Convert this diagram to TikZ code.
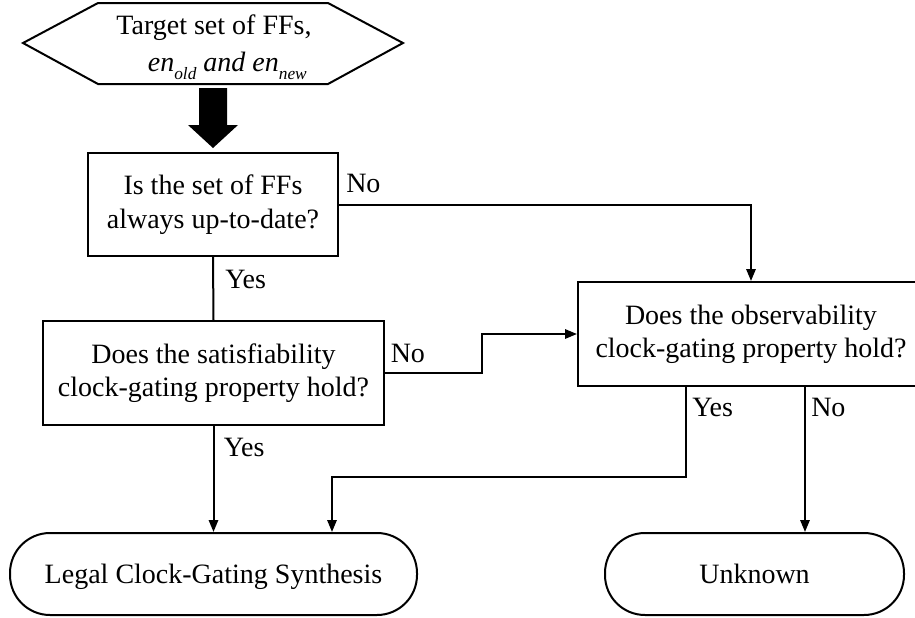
\documentclass[tikz,border=0pt]{standalone}
\usepackage{fontspec}
\setmainfont{Liberation Serif}
\usetikzlibrary{arrows.meta,calc}

\tikzset{
  txt/.style={font=\fontsize{21}{25}\selectfont, inner sep=0pt},
  stepbox/.style={txt, draw, line width=1.5pt, align=center, rectangle},
  term/.style={txt, draw, line width=1.5pt, align=center, rectangle,
    rounded corners=30pt, text height=14pt, text depth=0pt},
  link/.style={line width=1.5pt},
  arr/.style={link, -{Triangle[length=9pt,width=7pt]}},
  lbl/.style={txt, anchor=base west},
}
\newcommand{\lowsub}[1]{\raisebox{-0.28em}{\fontsize{13}{13}\selectfont #1}}

\begin{document}
\begin{tikzpicture}[x=0.75pt, y=-0.75pt]
  \useasboundingbox (0,0) rectangle (915,618);
  \clip (0,0) rectangle (915,618);

  % input: target set of flip-flops and enable signals
  \draw[line width=1.5pt, fill=white]
    (23,43) -- (98,3) -- (328,3) -- (403,43) -- (328,84) -- (98,84) -- cycle;
  \node[txt, align=center] (src) at (214,47)
    {Target set of FFs,\\[3pt]
     \hspace*{20pt}\itshape en\lowsub{old} and en\lowsub{new}};

  % wide block arrow into the first check
  \fill (199,88) -- (227,88) -- (227,125) -- (238,125) -- (213,148)
        -- (188,125) -- (199,125) -- cycle;

  % decision boxes
  \node[stepbox, minimum width=187.5pt, minimum height=77.25pt] (q1) at (213,204.5)
    {Is the set of FFs\\always up-to-date?};
  \node[stepbox, minimum width=255.75pt, minimum height=78pt] (q2) at (213.5,373)
    {Does the satisfiability\\clock-gating property hold?};
  \node[stepbox, minimum width=259.5pt, minimum height=78pt] (q3) at (751,334)
    {Does the observability\\clock-gating property hold?};

  % results
  \node[term, minimum width=305.25pt, minimum height=61.5pt] (legal) at (213.5,574)
    {Legal Clock-Gating Synthesis};
  \node[term, minimum width=224.25pt, minimum height=61.5pt] (unk) at (754.5,574)
    {Unknown};

  % connectors
  \draw[arr] (q1.east) -| (q3.north);
  \draw[link] (q1.south) -- (q2.north);
  \draw[arr] (q2.south) -- (legal.north);
  \draw[arr] (q2.east) -- ++(97,0) |- (q3.west);

  \coordinate (yesL) at ($(q3.south west)+(109,0)$);
  \coordinate (noL) at ($(q3.south west)+(228,0)$);
  \coordinate (legIn) at ($(legal.north)+(118.5,0)$);
  \draw[arr] (yesL) -- ++(0,90) -| (legIn);
  \draw[arr] (noL) -- (noL |- unk.north);

  % branch labels
  \node[lbl] (n1) at ($(q1.north east)+(7,40)$) {No};
  \node[lbl] (y1) at ($(q1.south)+(12,31)$) {Yes};
  \node[lbl] (n2) at ($(q2.east)+(5.5,-11)$) {No};
  \node[lbl] (y2) at ($(q2.south)+(10,30)$) {Yes};
  \node[lbl] (y3) at ($(yesL)+(6,29)$) {Yes};
  \node[lbl] (n3) at ($(noL)+(6,29)$) {No};
\end{tikzpicture}
\end{document}
